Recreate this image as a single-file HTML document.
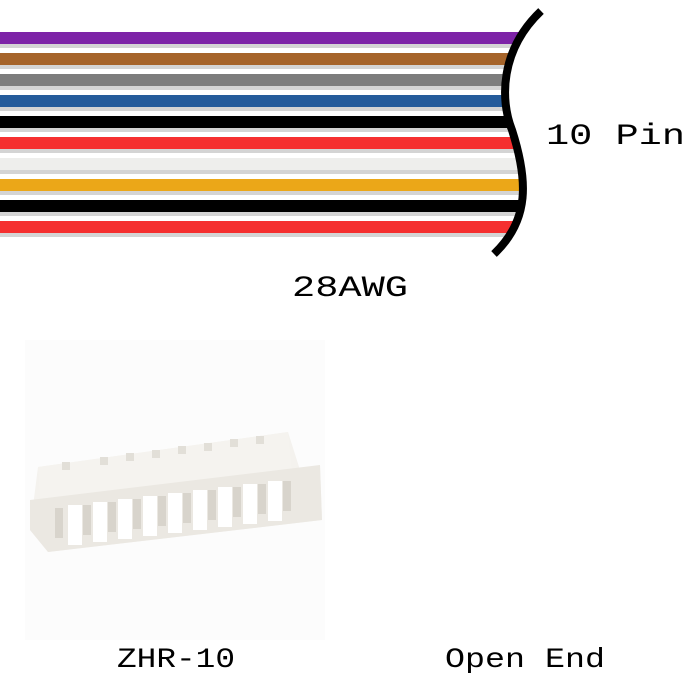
<!DOCTYPE html>
<html><head><style>
html,body{margin:0;padding:0;background:#fff;width:700px;height:700px;overflow:hidden}
text{font-family:"Liberation Mono","DejaVu Sans Mono",monospace}
</style></head><body>
<svg width="700" height="700" viewBox="0 0 700 700" xmlns="http://www.w3.org/2000/svg">
<defs>
<clipPath id="c"><path d="M0,0 L548,0 L540,12 C500,50 500,100 512,130 C528,180 530,220 495,254 L0,254 Z"/></clipPath>
</defs>
<g clip-path="url(#c)">
<g fill="#d4d4d4">
<rect x="0" y="44" width="560" height="4"/><rect x="0" y="65" width="560" height="4"/><rect x="0" y="86" width="560" height="4"/><rect x="0" y="107" width="560" height="4"/><rect x="0" y="128" width="560" height="4"/><rect x="0" y="149" width="560" height="4"/><rect x="0" y="170" width="560" height="4"/><rect x="0" y="191" width="560" height="4"/><rect x="0" y="212" width="560" height="4"/><rect x="0" y="233" width="560" height="4"/>
</g>
<rect x="0" y="32" width="560" height="12" fill="#7d23a7"/>
<rect x="0" y="53" width="560" height="12" fill="#a6642a"/>
<rect x="0" y="74" width="560" height="12" fill="#7d7d7d"/>
<rect x="0" y="95" width="560" height="12" fill="#245b9b"/>
<rect x="0" y="116" width="560" height="12" fill="#000"/>
<rect x="0" y="137" width="560" height="12" fill="#f52f2f"/>
<rect x="0" y="158" width="560" height="12" fill="#eeeeec"/>
<rect x="0" y="179" width="560" height="12" fill="#eba718"/>
<rect x="0" y="200" width="560" height="12" fill="#000"/>
<rect x="0" y="221" width="560" height="12" fill="#f52f2f"/>
</g>
<path d="M541,11 C500,50 500,100 512,130 C528,180 530,220 494,254" fill="none" stroke="#000" stroke-width="8"/>
<text x="546" y="144" font-size="30" fill="#000" textLength="139" lengthAdjust="spacingAndGlyphs">10 Pin</text>
<text x="292" y="296" font-size="30" fill="#000" textLength="116" lengthAdjust="spacingAndGlyphs">28AWG</text>
<rect x="25" y="340" width="300" height="300" fill="#fcfcfc"/>
<!-- connector -->
<g>
<path d="M38,467 L288,432 L300,470 L320,465 L322,520 L48,552 L30,530 Z" fill="#f4f2ee"/>
<path d="M38,467 L288,432 L292,470 L40,500 Z" fill="#f5f3ef"/>
<path d="M30,500 L320,465 L322,520 L48,552 L30,530 Z" fill="#ebe8e2"/>
<g fill="#ffffff">
<rect x="68" y="505" width="14" height="40"/><rect x="93" y="502" width="14" height="40"/><rect x="118" y="499" width="14" height="40"/><rect x="143" y="496" width="14" height="40"/><rect x="168" y="493" width="14" height="40"/><rect x="193" y="490" width="14" height="40"/><rect x="218" y="487" width="14" height="40"/><rect x="243" y="484" width="14" height="40"/><rect x="268" y="481" width="14" height="40"/>
</g>
<g fill="#d8d4cc">
<rect x="55" y="508" width="8" height="30"/><rect x="83" y="505" width="8" height="30"/><rect x="108" y="502" width="8" height="30"/><rect x="133" y="499" width="8" height="30"/><rect x="158" y="496" width="8" height="30"/><rect x="183" y="493" width="8" height="30"/><rect x="208" y="490" width="8" height="30"/><rect x="233" y="487" width="8" height="30"/><rect x="258" y="484" width="8" height="30"/><rect x="283" y="481" width="8" height="30"/>
</g>
<g fill="#e2dfd8">
<rect x="62" y="462" width="8" height="8"/><rect x="100" y="457" width="8" height="8"/><rect x="126" y="453" width="8" height="8"/><rect x="152" y="450" width="8" height="8"/><rect x="178" y="446" width="8" height="8"/><rect x="204" y="443" width="8" height="8"/><rect x="230" y="439" width="8" height="8"/><rect x="256" y="436" width="8" height="8"/>
</g>
</g>
<text x="117" y="667" font-size="28" fill="#000" textLength="118" lengthAdjust="spacingAndGlyphs">ZHR-10</text>
<text x="445" y="667" font-size="28" fill="#000" textLength="160" lengthAdjust="spacingAndGlyphs">Open End</text>
</svg>
</body></html>
